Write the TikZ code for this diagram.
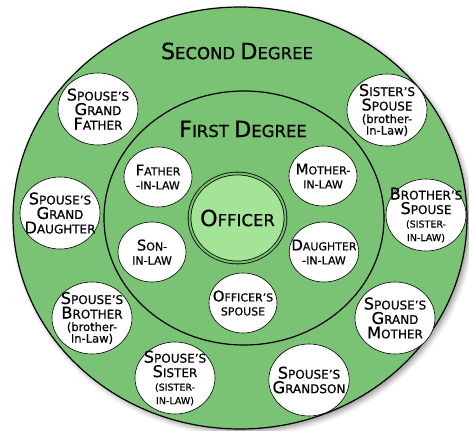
\documentclass[tikz,border=0pt]{standalone}
\usepackage{fontspec}
\setmainfont{DejaVu Sans}[FakeBold=0.6]
\usetikzlibrary{shapes.geometric,shadows.blur}
\definecolor{ringgreen}{RGB}{122,194,116}
\definecolor{rimgreen}{RGB}{78,148,74}
\definecolor{officergreen}{RGB}{163,228,150}
\pgfdeclareradialshading{rimshade}{\pgfpointorigin}{color(0bp)=(ringgreen); color(36bp)=(ringgreen); color(50bp)=(rimgreen)}
\newcommand\Cap[1]{\scalebox{1.35}{#1}}
\begin{document}
\begin{tikzpicture}[x=1pt, y=-1pt,
    ring/.style={draw, ellipse, line width=1.2pt},
    kin/.style={draw, ellipse, fill=white, inner sep=-8pt, align=center, line width=0.6pt},
    first/.style={kin, minimum width=68pt, minimum height=60pt, font=\fontsize{11}{14}\selectfont},
    second/.style={kin, minimum width=80pt, minimum height=72pt, font=\fontsize{12}{14.5}\selectfont},
    title/.style={font=\fontsize{16.5}{18}\selectfont}]
  \useasboundingbox (0,0) rectangle (469,431);
  \node[ring, shade, shading=rimshade, minimum width=454pt, minimum height=422pt,
    blur shadow={shadow xshift=3pt, shadow yshift=-3pt, shadow blur radius=5pt}] (outer) at (240,218) {};
  \node[ring, fill=ringgreen, minimum width=280pt, minimum height=254pt] (inner) at (244,218) {};
  \node[draw, ellipse, line width=0.8pt, double=ringgreen, double distance=2pt, fill=officergreen,
    minimum width=96pt, minimum height=89pt, inner sep=-10pt, title] (officer) at (237.5,218) {\Cap{O}FFICER};
  \node[title] (second) at (237,51) {\Cap{S}ECOND \Cap{D}EGREE};
  \node[title] (first) at (243,129) {\Cap{F}IRST \Cap{D}EGREE};
  % first degree
  \node[first] (father) at (158,177) {\Cap{F}ATHER\\-IN-LAW};
  \node[first] (mother) at (323,176) {\Cap{M}OTHER-\\IN-LAW};
  \node[first] (son) at (152,252) {\Cap{S}ON-\\IN-LAW};
  \node[first] (daughter) at (324,252) {\Cap{D}AUGHTER\\-IN-LAW};
  \node[first] (spouse) at (243,303) {\Cap{O}FFICER'S\\SPOUSE};
  % second degree
  \node[second] (grandfather) at (98,109) {\Cap{S}POUSE'S\\\Cap{G}RAND\\\Cap{F}ATHER};
  \node[second] (granddaughter) at (60,213) {\Cap{S}POUSE'S\\\Cap{G}RAND\\\Cap{D}AUGHTER};
  \node[second] (brother) at (92,318) {\Cap{S}POUSE'S\\\Cap{B}ROTHER\\[-2pt]{\fontsize{11.5}{12}\selectfont (brother-}\\[-3pt]{\fontsize{11.5}{12}\selectfont In-Law)}};
  \node[second] (sister) at (175,378) {\Cap{S}POUSE'S\\\Cap{S}ISTER\\[-1pt]{\fontsize{9.5}{10}\selectfont (SISTER-}\\[-1pt]{\fontsize{9.5}{10}\selectfont IN-LAW)}};
  \node[second] (grandson) at (309,380) {\Cap{S}POUSE'S\\\Cap{G}RANDSON};
  \node[second] (grandmother) at (395,318) {\Cap{S}POUSE'S\\\Cap{G}RAND\\\Cap{M}OTHER};
  \node[second] (brotherspouse) at (426,215) {\Cap{B}ROTHER'S\\\Cap{S}POUSE\\[-1pt]{\fontsize{9.5}{10}\selectfont (SISTER-}\\[-1pt]{\fontsize{9.5}{10}\selectfont IN-LAW)}};
  \node[second] (sisterspouse) at (387,110) {\Cap{S}ISTER'S\\\Cap{S}POUSE\\[-2pt]{\fontsize{11.5}{12}\selectfont (brother-}\\[-3pt]{\fontsize{11.5}{12}\selectfont In-Law)}};
\end{tikzpicture}
\end{document}
